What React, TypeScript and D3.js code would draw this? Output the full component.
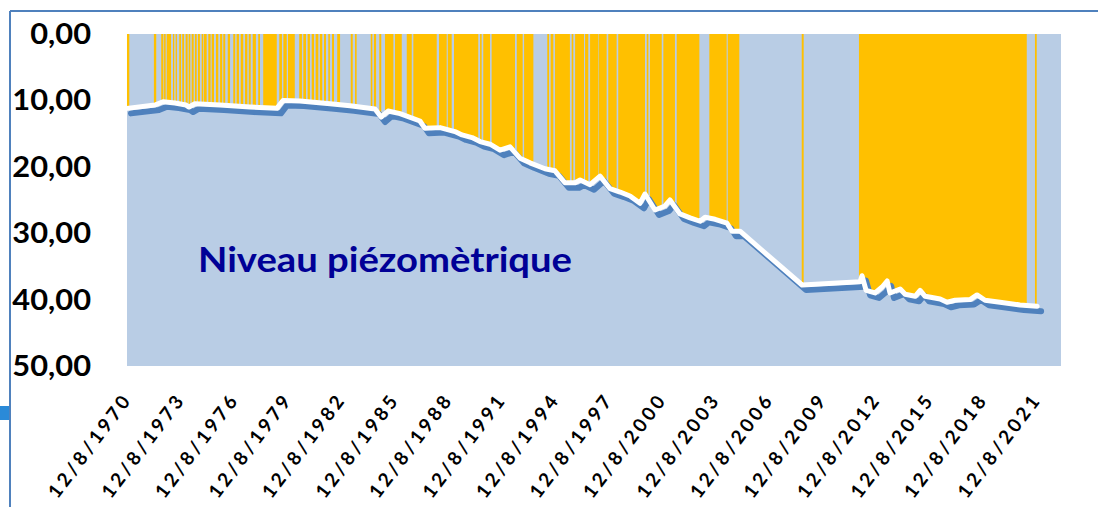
import * as d3 from 'd3';

// x tick labels (DD/MM/YYYY), every 3 years
const tickLabels = [
  '12/8/1970', '12/8/1973', '12/8/1976', '12/8/1979', '12/8/1982', '12/8/1985',
  '12/8/1988', '12/8/1991', '12/8/1994', '12/8/1997', '12/8/2000', '12/8/2003',
  '12/8/2006', '12/8/2009', '12/8/2012', '12/8/2015', '12/8/2018', '12/8/2021',
];
const xMax = 2022.99; // axis maximum (decimal year)
const yTicks = [0, 10, 20, 30, 40, 50];

// piezometric level: depth (m) below surface, decimal years
const levelYears = [
  1970.61, 1972.18, 1972.63, 1973.3, 1973.92, 1974.09, 1974.42, 1975.83, 1977.51, 1979.02,
  1979.36, 1980.31, 1982.0, 1983.12, 1984.52, 1984.86, 1985.25, 1985.92, 1987.04, 1987.32,
  1988.17, 1989.0, 1989.4, 1989.96, 1990.41, 1990.97, 1991.53, 1992.09, 1992.65, 1993.21,
  1994.05, 1994.61, 1995.17, 1995.74, 1996.02, 1996.58, 1997.14, 1997.7, 1998.26, 1998.82,
  1999.38, 1999.66, 2000.22, 2000.78, 2001.06, 2001.62, 2002.19, 2002.75, 2003.03, 2003.59,
  2004.26, 2004.54, 2004.99, 2008.47, 2011.72, 2011.83, 2012.06, 2012.56, 2012.96, 2013.24,
  2013.4, 2013.97, 2014.25, 2014.81, 2015.09, 2015.37, 2016.21, 2016.6, 2017.05, 2017.89,
  2018.28, 2018.73, 2019.57, 2020.69, 2021.65,
];
const levelDepths = [
  11.2, 10.7, 10.2, 10.4, 10.7, 11.0, 10.5, 10.7, 11.0, 11.2,
  10.0, 10.1, 10.5, 10.8, 11.3, 12.5, 11.6, 12.0, 13.1, 14.2,
  14.1, 14.7, 15.2, 15.6, 16.2, 16.6, 17.5, 17.0, 18.7, 19.4,
  20.3, 20.6, 22.4, 22.4, 22.0, 22.7, 21.4, 23.3, 23.8, 24.4,
  25.5, 24.1, 26.5, 25.9, 25.0, 27.1, 27.7, 28.2, 27.6, 27.9,
  28.5, 29.7, 29.7, 37.8, 37.3, 36.4, 38.6, 39.0, 38.1, 37.2,
  39.0, 38.4, 39.2, 39.5, 38.6, 39.5, 39.9, 40.4, 40.1, 40.0,
  39.3, 40.1, 40.4, 40.8, 41.0,
];

// periods with measurements (yellow fill), decimal years
const fillStart = [
  1970.61, 1972.12, 1972.53, 1972.69, 1972.84, 1973.19, 1973.34, 1973.54, 1973.71, 1973.9,
  1974.07, 1974.24, 1974.42, 1974.59, 1974.8, 1974.93, 1975.17, 1975.36, 1975.6, 1975.83,
  1976.01, 1976.26, 1976.57, 1976.76, 1976.99, 1977.23, 1977.44, 1977.66, 1977.97, 1978.25,
  1979.15, 1979.38, 1979.64, 1980.27, 1980.5, 1980.74, 1980.97, 1981.19, 1981.43, 1981.66,
  1981.9, 1982.11, 1982.4, 1983.16, 1983.4, 1984.28, 1984.46, 1984.76, 1985.08, 1985.64,
  1986.3, 1986.67, 1988.11, 1988.6, 1988.95, 1990.41, 1990.59, 1991.06, 1992.47, 1992.88,
  1994.18, 1994.37, 1994.61, 1995.55, 1995.74, 1996.3, 1996.58, 1997.08, 1997.6, 1998.16,
  1999.76, 1999.94, 2000.69, 2001.44, 2003.27, 2004.3, 2008.45, 2011.66, 2021.53,
];
const fillEnd = [
  1970.74, 1972.25, 1972.65, 1972.78, 1973.08, 1973.26, 1973.41, 1973.64, 1973.81, 1974.01,
  1974.16, 1974.35, 1974.52, 1974.7, 1974.89, 1975.08, 1975.3, 1975.49, 1975.73, 1975.95,
  1976.12, 1976.39, 1976.68, 1976.89, 1977.13, 1977.36, 1977.55, 1977.84, 1978.07, 1979.01,
  1979.3, 1979.57, 1980.02, 1980.42, 1980.65, 1980.87, 1981.1, 1981.34, 1981.56, 1981.77,
  1981.99, 1982.22, 1982.56, 1983.27, 1983.49, 1984.37, 1984.58, 1984.87, 1985.55, 1986.02,
  1986.58, 1987.98, 1988.54, 1988.82, 1990.31, 1990.5, 1990.97, 1992.37, 1992.8, 1993.4,
  1994.28, 1994.52, 1995.45, 1995.64, 1996.24, 1996.48, 1997.05, 1997.51, 1998.07, 1999.66,
  1999.85, 2000.6, 2001.34, 2002.71, 2004.24, 2004.95, 2008.56, 2021.07, 2021.63,
];

const W = 1098;
const H = 507;
const plot = { left: 127, right: 1061, top: 34, bottom: 366 };

function labelYear(s: string) {
  const [d, m, y] = s.split('/').map(Number);
  const days = (Date.UTC(y, m - 1, d) - Date.UTC(y, 0, 1)) / 864e5;
  return y + days / 365;
}

export default function App() {
  const x = d3.scaleLinear().domain([labelYear(tickLabels[0]), xMax]).range([plot.left, plot.right]);
  const y = d3.scaleLinear().domain([0, 50]).range([plot.top, plot.bottom]);

  const level: [number, number][] = levelYears.map((t, i) => [t, levelDepths[i]]);

  const depthAt = (t: number) => {
    const i = d3.bisectLeft(levelYears, t);
    if (i <= 0) return levelDepths[0];
    if (i >= levelYears.length) return levelDepths[levelDepths.length - 1];
    const t0 = levelYears[i - 1];
    const t1 = levelYears[i];
    return d3.interpolateNumber(levelDepths[i - 1], levelDepths[i])((t - t0) / (t1 - t0));
  };

  const area = d3.area<[number, number]>()
    .x(d => x(d[0]))
    .y0(y(0))
    .y1(d => y(d[1]));

  const fills = fillStart.map((a, i) => {
    const b = fillEnd[i];
    const pts: [number, number][] = [[a, depthAt(a)]];
    level.forEach(p => { if (p[0] > a && p[0] < b) pts.push(p); });
    pts.push([b, depthAt(b)]);
    return area(pts) as string;
  });

  const line = d3.line<[number, number]>().x(d => x(d[0])).y(d => y(d[1]));
  const levelPath = line(level) as string;

  const fmt = (v: number) => d3.format('.2f')(v).replace('.', ',');

  return (
    <svg width={W} height={H} style={{ position: 'absolute', left: 0, top: 0, background: '#fff' }}>
      {/* frame decoration */}
      <rect x={0} y={406} width={9} height={14} fill="#2a8ad8" />
      <line x1={10} y1={11} x2={W} y2={11} stroke="#4f81bd" strokeWidth={2} />
      <line x1={10} y1={11} x2={10} y2={H} stroke="#4f81bd" strokeWidth={2} />

      <rect x={plot.left} y={plot.top} width={plot.right - plot.left} height={plot.bottom - plot.top} fill="#b9cde5" />

      <g>
        {fills.map((d, i) => <path key={i} d={d} fill="#ffc000" />)}
      </g>

      <path d={levelPath} fill="none" stroke="#4f81bd" strokeWidth={6} strokeLinejoin="round" strokeLinecap="round" transform="translate(4,5)" />
      <path d={levelPath} fill="none" stroke="#ffffff" strokeWidth={5} strokeLinejoin="round" strokeLinecap="round" />

      <text x={198} y={272} fontFamily="Lato, 'Open Sans', sans-serif" fontWeight="bold" fontSize={35} fill="#000096" textLength={374} lengthAdjust="spacingAndGlyphs">
        Niveau piézomètrique
      </text>

      {yTicks.map(v => (
        <text key={v} transform={`translate(91,${y(v) + 10}) scale(1.1,1)`} textAnchor="end" fontFamily="Lato, 'Open Sans', sans-serif" fontWeight="bold" fontSize={28} fill="#000">
          {fmt(v)}
        </text>
      ))}

      {tickLabels.map(s => (
        <text key={s} transform={`translate(${x(labelYear(s)) + 4},${plot.bottom + 36}) rotate(-53)`} textAnchor="end" fontFamily="Lato, 'Open Sans', sans-serif" fontWeight="bold" fontSize={19} fill="#000" textLength={122} lengthAdjust="spacing">
          {s}
        </text>
      ))}
    </svg>
  );
}
